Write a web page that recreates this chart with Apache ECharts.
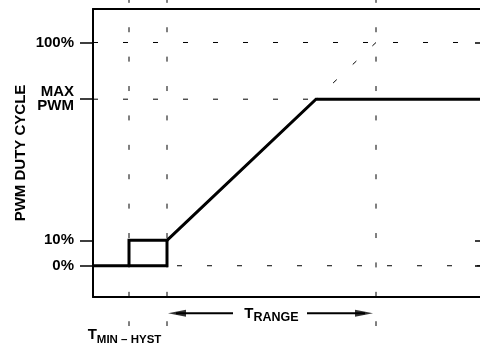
<!DOCTYPE html>
<html><head><meta charset="utf-8">
<script src="https://cdn.jsdelivr.net/npm/echarts@6/dist/echarts.min.js"></script>
<style>html,body{margin:0;padding:0;background:#fff}#c{width:480px;height:349px}</style>
</head><body><div id="c"></div>
<script>
// ---- Schematic data (duty-cycle levels on a 0..100 scale, temperatures in schematic units) ----
const yLevelValues = [0, 11.4, 74.6, 100];
const yLevelLabels = ['0%', '10%', 'MAX\nPWM', '100%'];
const yRange = [-14, 115];

const tMinHyst = 36;          // T_MIN - HYST
const tMin = 74;              // T_MIN
const tMax = 283;             // T_MIN + T_RANGE
const xRange = [0, 387];

const hysteresisX = [0, 74, 74, 36, 36];
const hysteresisY = [0, 0, 11.4, 11.4, 0];
const rampX = [74, 223, 387];
const rampY = [11.4, 74.6, 74.6];
const extensionX = [283, 223];
const extensionY = [100, 74.6];

const hGuideLevels = [100, 74.6, 0];
const vGuideX = [tMinHyst, tMin, tMax];
const vGuideYExtent = [120, -27];
const arrowY = -21.3;
const arrowTails = [140, 214];

// ---- Styling ----
const FONT = '"Liberation Sans", Arial, Helvetica, sans-serif';
const BLACK = '#000';
const pairs = (xs, ys) => xs.map((x, i) => [x, ys[i]]);

const series = [];
hGuideLevels.forEach((v, i) => {
  series.push({
    type: 'line', data: [[xRange[0], v], [xRange[1], v]], symbol: 'none', silent: true, z: 1,
    lineStyle: { color: BLACK, width: 1, type: [5, 25], dashOffset: v === 0 ? 6 : 0 }
  });
});
vGuideX.forEach(x => {
  series.push({
    type: 'line', data: [[x, vGuideYExtent[0]], [x, vGuideYExtent[1]]], symbol: 'none', silent: true, clip: false, z: 1,
    lineStyle: { color: BLACK, width: 1, type: [5, 24.4] }
  });
});
series.push({
  type: 'line', data: pairs(extensionX, extensionY), symbol: 'none', silent: true, z: 2,
  lineStyle: { color: BLACK, width: 1, type: [5, 22] }
});
series.push({
  type: 'line', data: pairs(hysteresisX, hysteresisY), symbol: 'none', silent: true, z: 3,
  lineStyle: { color: BLACK, width: 3, join: 'miter', cap: 'butt' }
});
series.push({
  type: 'line', data: pairs(rampX, rampY), symbol: 'none', silent: true, z: 3,
  lineStyle: { color: BLACK, width: 3, join: 'miter' }
});
// T_RANGE arrows
const headLen = 18;
const leftTip = tMin + 1, rightTip = tMax - 3;
series.push({
  type: 'line', data: [[arrowTails[0], arrowY], [leftTip + 8, arrowY]], symbol: 'none', silent: true, clip: false,
  lineStyle: { color: BLACK, width: 2 }
});
series.push({
  type: 'line', data: [[arrowTails[1], arrowY], [rightTip - 8, arrowY]], symbol: 'none', silent: true, clip: false,
  lineStyle: { color: BLACK, width: 2 }
});
series.push({
  type: 'scatter', clip: false, silent: true, symbol: 'triangle', symbolSize: [7, headLen],
  itemStyle: { color: BLACK },
  data: [
    { value: [leftTip + headLen / 2, arrowY], symbolRotate: 90 },
    { value: [rightTip - headLen / 2, arrowY], symbolRotate: -90 }
  ]
});

const richT = (subPad, subSize) => ({
  t: { fontFamily: FONT, fontWeight: 'bold', fontSize: 15, lineHeight: 15, color: BLACK, verticalAlign: 'top' },
  s: { fontFamily: FONT, fontWeight: 'bold', fontSize: subSize, lineHeight: subSize, color: BLACK, verticalAlign: 'top', padding: [subPad, 0, 0, 0] }
});

const option = {
  animation: false,
  backgroundColor: '#fff',
  grid: { left: 93, right: 0, top: 9, bottom: 52, containLabel: false, outerBoundsMode: 'none' },
  xAxis: [
    {
      type: 'value', position: 'bottom', min: xRange[0], max: xRange[1],
      axisLine: { show: true, onZero: false, lineStyle: { color: BLACK, width: 2 } },
      axisTick: { show: false }, splitLine: { show: false },
      axisLabel: {
        customValues: [(tMin + tMax) / 2], margin: 9,
        formatter: () => '{t|T}{s|RANGE}', rich: richT(5, 12.5)
      }
    },
    {
      type: 'value', position: 'top', min: xRange[0], max: xRange[1],
      axisLine: { show: true, onZero: false, lineStyle: { color: BLACK, width: 2 } },
      axisTick: { show: false }, splitLine: { show: false }, axisLabel: { show: false }
    },
    {
      type: 'value', position: 'bottom', min: xRange[0], max: xRange[1],
      axisLine: { show: false, onZero: false },
      axisTick: { show: false }, splitLine: { show: false },
      axisLabel: {
        customValues: [tMinHyst], margin: 30, padding: [0, 9, 0, 0],
        formatter: () => '{t|T}{s|MIN – HYST}', rich: richT(7, 11.5)
      }
    }
  ],
  yAxis: [
    {
      type: 'value', min: yRange[0], max: yRange[1],
      axisLine: { show: true, onZero: false, lineStyle: { color: BLACK, width: 2 } },
      axisTick: { show: true, customValues: yLevelValues, length: 13, lineStyle: { color: BLACK, width: 1.5 } },
      splitLine: { show: false },
      axisLabel: {
        customValues: yLevelValues, margin: 19,
        fontFamily: FONT, fontWeight: 'bold', fontSize: 15, lineHeight: 14, color: BLACK, align: 'right',
        formatter: v => {
          const i = yLevelValues.findIndex(l => Math.abs(l - v) < 1e-6);
          return i >= 0 ? yLevelLabels[i] : '';
        }
      },
      name: 'PWM DUTY CYCLE', nameLocation: 'middle', nameGap: 65, nameMoveOverlap: false,
      nameTextStyle: { fontFamily: FONT, fontWeight: 'bold', fontSize: 15, color: BLACK }
    },
    {
      type: 'value', min: yRange[0], max: yRange[1],
      axisLine: { show: false, onZero: false },
      axisTick: { show: true, inside: true, customValues: yLevelValues, length: 5, lineStyle: { color: BLACK, width: 1.5 } },
      splitLine: { show: false }, axisLabel: { show: false }
    }
  ],
  series: series
};

const chart = echarts.init(document.getElementById('c'), null, { renderer: 'canvas' });
chart.setOption(option);
</script>
</body></html>
